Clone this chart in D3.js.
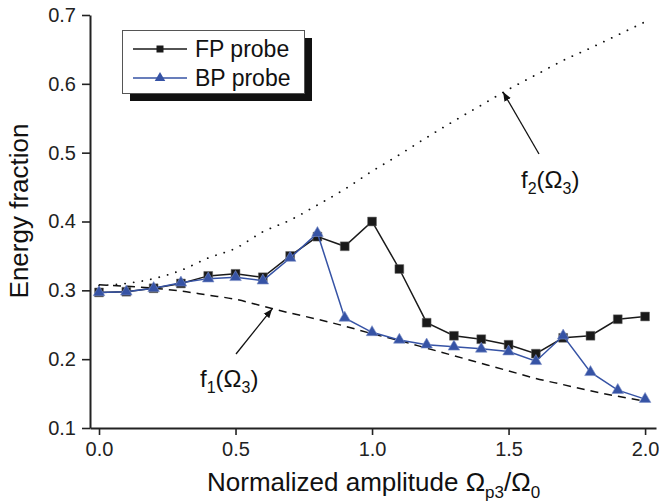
<!DOCTYPE html>
<meta charset="utf-8">
<title>Energy fraction</title>
<body>
<script src="https://cdn.jsdelivr.net/npm/d3@7"></script>
<style>
html, body {
    margin: 0;
    background: #fff;
}
svg {
    display: block;
    font-family: Arial, "Liberation Sans", Helvetica, sans-serif;
}
</style>
<script>
var width = 659,
    height = 504;

// amplitude Omega_p3/Omega_0
var amps = [0.0, 0.1, 0.2, 0.3, 0.4, 0.5, 0.6, 0.7, 0.8, 0.9, 1.0,
            1.1, 1.2, 1.3, 1.4, 1.5, 1.6, 1.7, 1.8, 1.9, 2.0];

var fpProbe = [0.297, 0.298, 0.303, 0.310, 0.321, 0.324, 0.319, 0.350, 0.378, 0.364, 0.400,
               0.331, 0.253, 0.234, 0.229, 0.221, 0.208, 0.231, 0.234, 0.258, 0.262];

var bpProbe = [0.297, 0.298, 0.303, 0.311, 0.317, 0.319, 0.314, 0.347, 0.383, 0.260, 0.239,
               0.228, 0.221, 0.218, 0.215, 0.211, 0.197, 0.234, 0.181, 0.155, 0.142];

// f1(Omega_3) dashed, f2(Omega_3) dotted
var f1 = [0.308, 0.306, 0.303, 0.299, 0.293, 0.287, 0.277, 0.267, 0.258, 0.248, 0.237,
          0.227, 0.216, 0.205, 0.194, 0.183, 0.172, 0.163, 0.154, 0.146, 0.139];

var f2 = [0.307, 0.310, 0.317, 0.329, 0.347, 0.361, 0.385, 0.402, 0.424, 0.447, 0.473,
          0.497, 0.522, 0.546, 0.569, 0.592, 0.613, 0.634, 0.652, 0.671, 0.690];

var xMajor = [0, 0.5, 1.0, 1.5, 2.0],
    xMinor = [0.25, 0.75, 1.25, 1.75],
    yMajor = [0.1, 0.2, 0.3, 0.4, 0.5, 0.6, 0.7],
    yMinor = [0.15, 0.25, 0.35, 0.45, 0.55, 0.65];

var legendNames = ["FP probe", "BP probe"];

var blue = "#3653a5";

var x = d3.scaleLinear().domain([-0.033, 2.04]).range([90, 656]);
var y = d3.scaleLinear().domain([0.1, 0.7]).range([428, 15]);

var svg = d3.select("body").append("svg")
    .attr("width", width)
    .attr("height", height);

// axes
var gx = svg.append("g").attr("transform", "translate(0," + y(0.1) + ")");
gx.call(d3.axisBottom(x).tickValues(xMinor).tickSize(4).tickSizeOuter(0).tickFormat(""));
gx.call(d3.axisBottom(x).tickValues(xMajor).tickSize(7).tickSizeOuter(0).tickFormat(d3.format(".1f")));

var gy = svg.append("g").attr("transform", "translate(" + x(-0.033) + ",0)");
gy.call(d3.axisLeft(y).tickValues(yMinor).tickSize(5).tickSizeOuter(0).tickFormat(""));
gy.call(d3.axisLeft(y).tickValues(yMajor).tickSize(8).tickSizeOuter(0).tickFormat(d3.format(".1f")));

svg.selectAll(".domain").attr("stroke", "#222").attr("stroke-width", 2);
svg.selectAll(".tick line").attr("stroke", "#222").attr("stroke-width", 1.6);
svg.selectAll(".tick text")
    .attr("fill", "#222")
    .style("font-size", "20px")
    .style("font-family", "Arial, 'Liberation Sans', sans-serif");
gx.selectAll(".tick text").attr("y", 14).attr("dy", "0.71em");
gy.selectAll(".tick text").attr("x", -14);

// theory curves
var curveLine = function(vals) {
    return d3.line()
        .x(function(d, i) { return x(amps[i]); })
        .y(function(d) { return y(d); })
        .curve(d3.curveMonotoneX)(vals);
};

svg.append("path")
    .attr("d", curveLine(f2))
    .attr("fill", "none")
    .attr("stroke", "#111")
    .attr("stroke-width", 1.8)
    .attr("stroke-linecap", "round")
    .attr("stroke-dasharray", "0.1 8.6");

svg.append("path")
    .attr("d", curveLine(f1))
    .attr("fill", "none")
    .attr("stroke", "#111")
    .attr("stroke-width", 1.5)
    .attr("stroke-dasharray", "8 6");

// data series
var straight = d3.line()
    .x(function(d, i) { return x(amps[i]); })
    .y(function(d) { return y(d); });

svg.append("path")
    .attr("d", straight(fpProbe))
    .attr("fill", "none")
    .attr("stroke", "#1a1a1a")
    .attr("stroke-width", 1.5);

svg.selectAll(".sq")
    .data(fpProbe)
    .enter().append("path")
    .attr("class", "sq")
    .attr("transform", function(d, i) { return "translate(" + x(amps[i]) + "," + y(d) + ")"; })
    .attr("d", d3.symbol().type(d3.symbolSquare).size(78)())
    .attr("fill", "#1a1a1a")
    .attr("stroke", "#666")
    .attr("stroke-width", 0.5);

svg.append("path")
    .attr("d", straight(bpProbe))
    .attr("fill", "none")
    .attr("stroke", blue)
    .attr("stroke-width", 1.5);

svg.selectAll(".tri")
    .data(bpProbe)
    .enter().append("path")
    .attr("class", "tri")
    .attr("transform", function(d, i) { return "translate(" + x(amps[i]) + "," + y(d) + ")"; })
    .attr("d", d3.symbol().type(d3.symbolTriangle).size(58)())
    .attr("fill", blue)
    .attr("stroke", "#7e90c8")
    .attr("stroke-width", 0.6);

// annotations
svg.append("defs").append("marker")
    .attr("id", "head")
    .attr("viewBox", "0 0 10 10")
    .attr("refX", 10)
    .attr("refY", 5)
    .attr("markerWidth", 9)
    .attr("markerHeight", 9)
    .attr("markerUnits", "userSpaceOnUse")
    .attr("orient", "auto")
    .append("path")
    .attr("d", "M0,1L10,5L0,9Z")
    .attr("fill", "#111");

function arrow(x1, y1, xv, yv) {
    svg.append("line")
        .attr("x1", x1).attr("y1", y1)
        .attr("x2", x(xv)).attr("y2", y(yv))
        .attr("stroke", "#111")
        .attr("stroke-width", 1.3)
        .attr("marker-end", "url(#head)");
}
arrow(539, 154, 1.48, 0.588);
arrow(236, 354, 0.634, 0.273);

function fLabel(tx, ty, n) {
    var t = svg.append("text")
        .attr("x", tx).attr("y", ty)
        .attr("fill", "#111")
        .style("font-size", "24px");
    t.append("tspan").text("f");
    t.append("tspan").attr("dy", 6).style("font-size", "16px").text(n);
    t.append("tspan").attr("dy", -6).text("(\u03a9");
    t.append("tspan").attr("dy", 6).style("font-size", "16px").text("3");
    t.append("tspan").attr("dy", -6).text(")");
}
fLabel(521, 188, "2");
fLabel(200, 387, "1");

// axis titles
var xt = svg.append("text")
    .attr("x", 207).attr("y", 491)
    .attr("fill", "#111")
    .style("font-size", "26px");
xt.append("tspan").text("Normalized amplitude \u03a9");
xt.append("tspan").attr("dy", 7).style("font-size", "17px").text("p3");
xt.append("tspan").attr("dy", -7).text("/\u03a9");
xt.append("tspan").attr("dy", 7).style("font-size", "17px").text("0");

svg.append("text")
    .attr("transform", "translate(28,211) rotate(-90)")
    .attr("text-anchor", "middle")
    .attr("fill", "#111")
    .style("font-size", "26px")
    .text("Energy fraction");

// legend
var lg = svg.append("g");
lg.append("rect")
    .attr("x", 130).attr("y", 38)
    .attr("width", 182).attr("height", 63)
    .attr("fill", "#111");
lg.append("rect")
    .attr("x", 122.5).attr("y", 30.5)
    .attr("width", 182).attr("height", 63)
    .attr("fill", "#fff")
    .attr("stroke", "#555")
    .attr("stroke-width", 1);

var legendRows = lg.selectAll(".row")
    .data(legendNames)
    .enter().append("g")
    .attr("class", "row")
    .attr("transform", function(d, i) { return "translate(0," + (49 + i * 29) + ")"; });

legendRows.append("line")
    .attr("x1", 133).attr("x2", 187)
    .attr("stroke", function(d, i) { return i ? blue : "#1a1a1a"; })
    .attr("stroke-width", 1.5);

legendRows.append("path")
    .attr("transform", "translate(160,0)")
    .attr("d", function(d, i) {
        return d3.symbol().type(i ? d3.symbolTriangle : d3.symbolSquare).size(i ? 48 : 49)();
    })
    .attr("fill", function(d, i) { return i ? blue : "#1a1a1a"; });

legendRows.append("text")
    .attr("x", 195).attr("y", 8)
    .attr("fill", "#111")
    .style("font-size", "23px")
    .text(function(d) { return d; });
</script>
